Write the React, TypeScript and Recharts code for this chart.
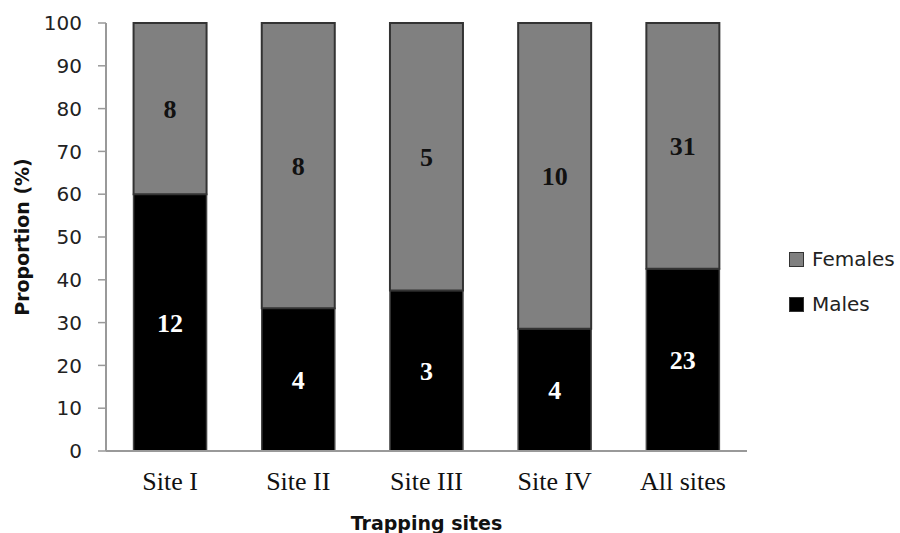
import React from 'react';
import { BarChart, Bar, XAxis, YAxis, Legend, LabelList, Label } from 'recharts';

const sites = ['Site I', 'Site II', 'Site III', 'Site IV', 'All sites'];
const males = [12, 4, 3, 4, 23];
const females = [8, 8, 5, 10, 31];
const yTicks = [0, 10, 20, 30, 40, 50, 60, 70, 80, 90, 100];
const legendItems = [
  { name: 'Females', color: '#808080' },
  { name: 'Males', color: '#000000' },
];

const data = sites.map((site, i) => ({ site, males: males[i], females: females[i] }));

const SANS = "'DejaVu Sans', Verdana, sans-serif";
const SERIF = "'Liberation Serif', 'Times New Roman', serif";

const renderLegend = () => (
  <div style={{ fontFamily: SANS, fontSize: 20, color: '#222' }}>
    {legendItems.map((it) => (
      <div key={it.name} style={{ display: 'flex', alignItems: 'center', height: 45 }}>
        <span
          style={{
            display: 'inline-block',
            width: 13,
            height: 13,
            background: it.color,
            border: '1.5px solid #333',
            marginRight: 8,
          }}
        />
        <span>{it.name}</span>
      </div>
    ))}
  </div>
);

const YTitle = (props: any) => {
  const vb = props.viewBox || {};
  const cx = (vb.x || 0) + 22;
  const cy = (vb.y || 0) + (vb.height || 0) / 2;
  return (
    <text
      x={cx}
      y={cy}
      transform={`rotate(-90 ${cx} ${cy})`}
      textAnchor="middle"
      dominantBaseline="central"
      fontFamily={SANS}
      fontWeight="bold"
      fontSize={19}
      fill="#111"
    >
      Proportion (%)
    </text>
  );
};

export default function App() {
  return (
    <div style={{ position: 'absolute', left: 0, top: 0, width: 900, height: 533, background: '#fff' }}>
      <BarChart
        width={900}
        height={533}
        data={data}
        stackOffset="expand"
        barCategoryGap="21.5%"
        margin={{ top: 23, right: 42, bottom: 0, left: 0 }}
      >
        <XAxis
          dataKey="site"
          height={82}
          axisLine={{ stroke: '#999', strokeWidth: 2 }}
          tickLine={false}
          tickSize={0}
          tickMargin={21}
          tick={{ fontFamily: SERIF, fontSize: 26, fill: '#111' }}
        >
          <Label
            value="Trapping sites"
            position="insideBottom"
            offset={3}
            style={{ fontFamily: SANS, fontWeight: 'bold', fontSize: 19, fill: '#111' }}
          />
        </XAxis>
        <YAxis
          width={106}
          domain={[0, 1]}
          ticks={yTicks.map((t) => t / 100)}
          tickFormatter={(v: number) => String(Math.round(v * 100))}
          axisLine={{ stroke: '#999', strokeWidth: 2 }}
          tickLine={{ stroke: '#999', strokeWidth: 1.5 }}
          tickSize={8}
          tickMargin={16}
          tick={{ fontFamily: SANS, fontSize: 20, fill: '#222' }}
          interval={0}
        >
          <Label content={<YTitle />} />
        </YAxis>
        <Legend
          layout="vertical"
          align="right"
          verticalAlign="top"
          content={renderLegend}
          wrapperStyle={{ left: 789, top: 236.5, width: 111 }}
        />
        <Bar
          dataKey="males"
          name="Males"
          stackId="a"
          fill="#000000"
          stroke="#444"
          strokeWidth={1.5}
          isAnimationActive={false}
          legendType="square"
        >
          <LabelList
            dataKey="males"
            position="center"
            fill="#ffffff"
            style={{ fontFamily: SERIF, fontWeight: 'bold', fontSize: 26 }}
          />
        </Bar>
        <Bar
          dataKey="females"
          name="Females"
          stackId="a"
          fill="#808080"
          stroke="#333"
          strokeWidth={2}
          isAnimationActive={false}
          legendType="square"
        >
          <LabelList
            dataKey="females"
            position="center"
            fill="#111"
            style={{ fontFamily: SERIF, fontWeight: 'bold', fontSize: 26 }}
          />
        </Bar>
      </BarChart>
    </div>
  );
}
